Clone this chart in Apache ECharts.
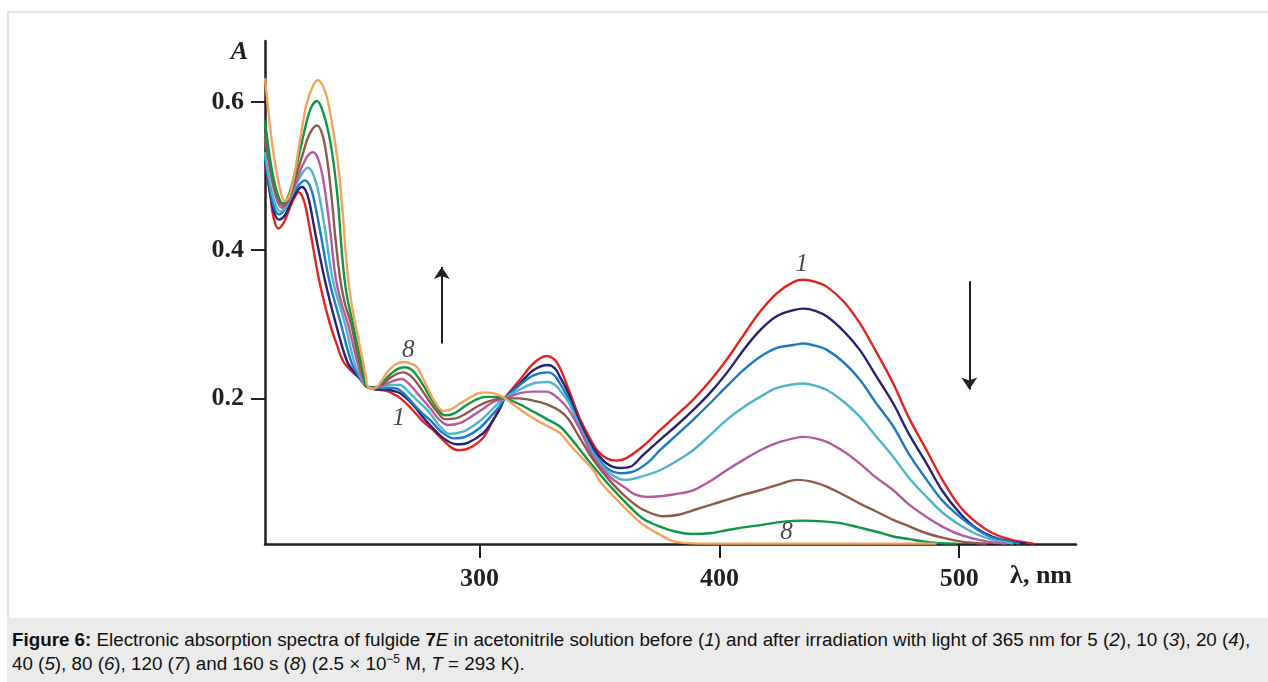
<!DOCTYPE html>
<html>
<head>
<meta charset="utf-8">
<script src="https://cdn.jsdelivr.net/npm/echarts@6/dist/echarts.min.js"></script>
<style>
  html, body { margin: 0; padding: 0; background: #fff; }
  body { width: 1268px; height: 682px; position: relative; overflow: hidden; }
  #frame { position: absolute; left: 7px; top: 11px; width: 1270px; height: 607px;
           border-left: 2px solid #e3e3e3; border-top: 2px solid #e3e3e3; box-sizing: border-box; }
  #chart { position: absolute; left: 0; top: 0; width: 1268px; height: 618px; }
  #caption { position: absolute; left: 7px; top: 618px; width: 1261px; height: 64px;
             background: #ebebeb; box-sizing: border-box; padding: 10px 0 0 5px;
             font-family: "Liberation Sans", Arial, sans-serif; font-size: 18.8px; line-height: 24px;
             color: #111; white-space: nowrap; }
  #caption sup { font-size: 12px; line-height: 0; vertical-align: 7px; }
</style>
</head>
<body>
<div id="frame"></div>
<div id="chart"></div>
<div id="caption"><b>Figure 6:</b> Electronic absorption spectra of fulgide <b>7</b><i>E</i> in acetonitrile solution before (<i>1</i>) and after irradiation with light of 365 nm for 5 (<i>2</i>), 10 (<i>3</i>), 20 (<i>4</i>),<br>40 (<i>5</i>), 80 (<i>6</i>), 120 (<i>7</i>) and 160 s (<i>8</i>) (2.5 × 10<sup>−5</sup> M, <i>T</i> = 293 K).</div>
<script>
// wavelength (nm), absorbance A
const curve1 = [[210.5,0.517],[212.6,0.476],[214,0.445],[216,0.429],[218.5,0.438],[221,0.458],[223,0.472],[224.3,0.478],[225.8,0.474],[227.3,0.460],[229.5,0.423],[233.1,0.359],[237.6,0.300],[240.5,0.272],[243.1,0.250],[246.5,0.237],[250,0.227],[252.8,0.216],[257,0.212],[261,0.210],[264,0.206],[267,0.200],[271,0.188],[276,0.170],[280.6,0.157],[285,0.143],[288,0.134],[291,0.130],[294,0.131],[297,0.135],[301.5,0.147],[305.7,0.171],[308.5,0.188],[310.5,0.200],[316.8,0.225],[322.4,0.247],[327.9,0.257],[331,0.253],[333.5,0.241],[337,0.213],[341.5,0.175],[345,0.152],[349,0.130],[353,0.119],[357,0.116],[361,0.119],[368,0.135],[375.2,0.157],[382,0.177],[389,0.198],[396,0.223],[403,0.252],[410,0.285],[417,0.317],[424,0.342],[431,0.357],[435,0.360],[440,0.357],[445,0.350],[452,0.330],[458.6,0.301],[465,0.265],[472.5,0.220],[479,0.174],[486.4,0.130],[493,0.090],[500.3,0.054],[507,0.033],[514,0.018],[522,0.009],[531,0.004]];
const curve2 = [[210.5,0.521],[212.6,0.478],[214.3,0.451],[216.3,0.441],[219,0.448],[221.5,0.466],[224,0.480],[226,0.485],[227.5,0.480],[229,0.465],[231.5,0.422],[235.5,0.359],[240.1,0.300],[244.7,0.250],[248,0.234],[251,0.223],[252.8,0.216],[257,0.212],[261,0.212],[264,0.210],[266.8,0.207],[272,0.192],[276,0.176],[279.3,0.164],[285,0.146],[290.4,0.138],[295,0.140],[301.5,0.153],[305.5,0.170],[308.5,0.186],[310.5,0.200],[316.8,0.220],[322.4,0.238],[328.6,0.245],[331.5,0.240],[333.5,0.229],[337,0.207],[341.5,0.170],[347.4,0.133],[353,0.112],[358.5,0.106],[363,0.108],[368,0.123],[375.2,0.144],[382,0.163],[389,0.184],[396,0.207],[403,0.234],[410,0.265],[417,0.292],[424,0.311],[431,0.319],[435,0.321],[440,0.318],[445,0.310],[452,0.290],[458.6,0.265],[465,0.232],[472.5,0.193],[479,0.152],[486.4,0.112],[493,0.075],[500.3,0.045],[507,0.025],[514,0.013],[521,0.007],[528,0.004]];
const curve3 = [[210.5,0.525],[212.6,0.482],[214.5,0.456],[216.5,0.448],[219,0.456],[222,0.475],[225,0.489],[227.2,0.494],[229,0.488],[230.8,0.470],[233.7,0.422],[237.3,0.359],[242.2,0.300],[246.4,0.250],[249.5,0.230],[252.8,0.216],[256,0.214],[260,0.214],[263,0.214],[266.8,0.211],[272,0.194],[276,0.180],[279.3,0.171],[284,0.155],[289,0.146],[294,0.148],[300.1,0.160],[305,0.177],[308.5,0.190],[310.5,0.200],[316.8,0.218],[322.4,0.231],[328.6,0.235],[331.5,0.230],[333.5,0.220],[337,0.200],[341.5,0.165],[347.4,0.128],[353,0.106],[359,0.099],[364,0.101],[370,0.113],[375.2,0.130],[382,0.150],[389,0.171],[396,0.193],[403,0.216],[410,0.238],[417,0.256],[424,0.268],[431,0.272],[435,0.274],[440,0.271],[445,0.265],[452,0.248],[458.6,0.225],[465,0.195],[472.5,0.162],[479,0.125],[486.4,0.090],[493,0.062],[500.3,0.040],[507,0.024],[514,0.012],[525.3,0.004]];
const curve4 = [[210.5,0.532],[212.7,0.488],[214.8,0.462],[217,0.452],[219.5,0.460],[222,0.477],[225,0.498],[228.4,0.511],[230.5,0.503],[233,0.475],[235.8,0.422],[238.8,0.359],[243.9,0.300],[247.6,0.250],[250.3,0.229],[252.8,0.216],[256,0.215],[259.5,0.216],[263,0.218],[266.8,0.218],[270,0.210],[274,0.197],[277,0.188],[279.3,0.180],[283.5,0.162],[287.6,0.152],[293,0.155],[298.7,0.166],[303,0.178],[307.1,0.191],[310.5,0.200],[316.8,0.212],[322.4,0.220],[328.6,0.222],[331.5,0.218],[333.5,0.211],[337,0.195],[341.5,0.163],[347.4,0.125],[354,0.100],[360.6,0.090],[367,0.094],[375.2,0.103],[382,0.115],[389,0.130],[396,0.150],[403,0.171],[410,0.188],[417,0.202],[424,0.214],[431,0.219],[435,0.220],[440,0.217],[445,0.211],[452,0.195],[458.6,0.175],[465,0.150],[472.5,0.121],[479,0.093],[486.4,0.067],[493,0.046],[500.3,0.029],[507,0.017],[514,0.009],[522.5,0.004]];
const curve5 = [[210.5,0.551],[212.8,0.505],[215.2,0.470],[217.5,0.457],[220,0.465],[223,0.488],[226,0.513],[228.5,0.528],[230.5,0.532],[232.5,0.524],[234.5,0.500],[236.3,0.462],[237.9,0.420],[240,0.362],[242.4,0.328],[245.1,0.300],[248.9,0.250],[251,0.228],[252.8,0.216],[256,0.214],[259.5,0.217],[263.5,0.223],[267.5,0.226],[271,0.218],[275,0.203],[279.3,0.187],[283,0.172],[286.9,0.164],[292,0.167],[297.3,0.177],[301.5,0.186],[305.7,0.195],[310.5,0.200],[316.8,0.207],[322.4,0.209],[327.9,0.209],[333.5,0.198],[337,0.185],[341.5,0.160],[347.4,0.121],[354,0.095],[361.3,0.078],[365,0.070],[369.6,0.067],[375.2,0.068],[382,0.071],[389,0.076],[396,0.088],[403,0.103],[410,0.117],[417,0.130],[424,0.140],[431,0.146],[435,0.148],[440,0.146],[445,0.141],[452,0.128],[458.6,0.112],[465,0.094],[472.5,0.076],[479,0.057],[486.4,0.040],[493,0.027],[500.3,0.016],[507,0.010],[513,0.006],[519.8,0.004]];
const curve6 = [[210.5,0.558],[213,0.505],[215.5,0.473],[218,0.460],[220.5,0.470],[223,0.495],[226,0.527],[229,0.556],[232.2,0.568],[234.5,0.555],[236.5,0.520],[238.3,0.470],[239.9,0.415],[241.8,0.362],[243.8,0.328],[246.4,0.300],[249.7,0.250],[251.5,0.228],[252.8,0.216],[256,0.214],[259,0.218],[262.5,0.227],[265.5,0.233],[268.1,0.235],[271,0.231],[274,0.220],[277,0.206],[279.3,0.195],[282.5,0.181],[285.5,0.172],[290,0.173],[294.6,0.180],[299,0.189],[302.9,0.195],[307,0.199],[310.5,0.200],[316,0.200],[322.4,0.197],[328,0.192],[333.5,0.183],[337,0.172],[341.5,0.148],[347.4,0.117],[354,0.090],[361.3,0.066],[368,0.050],[376.6,0.041],[383,0.043],[389.1,0.049],[396,0.056],[403,0.063],[410,0.070],[416.9,0.076],[425,0.084],[432.2,0.090],[438,0.088],[444.7,0.081],[451.6,0.070],[458.6,0.058],[465.6,0.047],[472.5,0.036],[479.4,0.027],[486.4,0.018],[493,0.012],[500.3,0.007],[506,0.005],[511.4,0.004]];
const curve7 = [[210.5,0.575],[213,0.515],[215.5,0.478],[218,0.463],[220.5,0.475],[223,0.505],[225.5,0.540],[228,0.575],[230,0.594],[232.2,0.601],[234.8,0.585],[237.5,0.550],[239.6,0.505],[241.2,0.455],[242.6,0.395],[244.4,0.343],[247.2,0.300],[250.3,0.252],[252,0.226],[253,0.216],[256,0.214],[259,0.220],[262,0.230],[265.5,0.239],[268.8,0.242],[271.5,0.239],[274,0.230],[276.8,0.216],[279.3,0.202],[282.5,0.186],[285.5,0.177],[289,0.179],[294.6,0.191],[299,0.199],[302.9,0.202],[306.5,0.202],[310.5,0.200],[316,0.193],[322.4,0.182],[328,0.172],[333.5,0.162],[337,0.150],[341.5,0.132],[347.4,0.108],[354,0.083],[361.3,0.058],[368,0.038],[375.2,0.027],[382,0.020],[389.1,0.017],[396,0.018],[403,0.022],[410,0.026],[417,0.029],[425,0.033],[435,0.035],[443,0.034],[451.6,0.031],[458,0.026],[465.6,0.020],[472,0.014],[479.4,0.010],[485,0.007],[490.6,0.005],[498.9,0.004]];
const curve8 = [[210.5,0.632],[213.3,0.548],[216,0.494],[218.8,0.466],[220.5,0.472],[222.3,0.494],[225.1,0.548],[227.9,0.598],[230.6,0.622],[232.6,0.629],[234.5,0.622],[236.4,0.605],[238.9,0.562],[241,0.515],[242.8,0.455],[244.3,0.390],[246,0.340],[248.3,0.298],[251.2,0.252],[252.5,0.230],[253.3,0.216],[255.6,0.213],[258,0.218],[261.2,0.234],[265,0.246],[268.8,0.249],[271,0.247],[273.7,0.243],[276.5,0.226],[279.3,0.207],[282,0.192],[284.8,0.183],[288,0.185],[291.8,0.193],[296,0.201],[299.5,0.207],[302,0.208],[305.5,0.207],[308.5,0.204],[310.5,0.200],[316,0.187],[322.4,0.173],[328,0.163],[333.5,0.153],[338,0.136],[343.2,0.118],[347.4,0.103],[350.2,0.088],[354,0.074],[361.3,0.050],[368,0.030],[375.2,0.016],[380,0.008],[385,0.005],[392,0.004],[420,0.004],[450,0.004],[490.6,0.004]];

const curves = [curve1, curve2, curve3, curve4, curve5, curve6, curve7, curve8];
const curveColors = ['#e2231f', '#2a2270', '#1b7cc2', '#4eb6c7', '#b65a9f', '#8f5b49', '#119548', '#f4a459'];

const xTicks = [300, 400, 500];
const yTicks = [0.2, 0.4, 0.6];

// curve number labels, placed in data coordinates
const labelTexts = ['1', '8', '1', '8'];
const labelAnchors = [[434.3, 0.380], [270.2, 0.265], [266.3, 0.173], [428.0, 0.019]];

// trend arrows (start -> end)
const arrowUp = [[284.2, 0.274], [284.2, 0.377]];
const arrowDown = [[504.2, 0.358], [504.2, 0.212]];

const ink = '#231f20';
const serif = '"Liberation Serif", "Times New Roman", serif';

const chart = echarts.init(document.getElementById('chart'));

const series = curves.map((c, i) => ({
    type: 'line',
    name: String(i + 1),
    data: c,
    smooth: 0.35,
    showSymbol: false,
    silent: true,
    lineStyle: {color: curveColors[i], width: 2.4},
    z: 2 + i
}));

series.push({
    type: 'scatter',
    symbolSize: 0,
    silent: true,
    data: labelAnchors.map((p, i) => ({value: p, label: {formatter: labelTexts[i]}})),
    label: {
        show: true,
        position: 'inside',
        fontFamily: serif,
        fontStyle: 'italic',
        fontSize: 25,
        color: '#1a1a1a'
    },
    markLine: {
        silent: true,
        symbol: ['none', 'arrow'],
        symbolSize: [12, 12],
        label: {show: false},
        lineStyle: {color: ink, width: 2, type: 'solid'},
        data: [
            [{coord: arrowUp[0]}, {coord: arrowUp[1]}],
            [{coord: arrowDown[0]}, {coord: arrowDown[1]}]
        ]
    },
    z: 20
});

const option = {
    animation: false,
    backgroundColor: 'transparent',
    grid: {left: 265, right: 192, top: 41, bottom: 74, outerBoundsMode: 'none'},
    xAxis: {
        type: 'value',
        min: 210.5,
        max: 548.7,
        name: 'λ, nm',
        nameLocation: 'end',
        nameGap: -4,
        nameTextStyle: {
            fontFamily: serif, fontWeight: 'bold', fontSize: 26, color: ink,
            align: 'right', verticalAlign: 'top', padding: [19, 0, 0, 0]
        },
        splitLine: {show: false},
        axisLine: {onZero: false, lineStyle: {color: ink, width: 2.5}},
        axisTick: {customValues: xTicks, length: 14, lineStyle: {color: ink, width: 2}},
        axisLabel: {
            customValues: xTicks, margin: 22,
            fontFamily: serif, fontWeight: 'bold', fontSize: 26, color: ink
        }
    },
    yAxis: {
        type: 'value',
        min: 0.0035,
        max: 0.682,
        name: 'A',
        nameLocation: 'end',
        nameGap: -11,
        nameTextStyle: {
            fontFamily: serif, fontWeight: 'bold', fontStyle: 'italic', fontSize: 26, color: ink,
            align: 'right', verticalAlign: 'middle', padding: [0, 17, 0, 0]
        },
        splitLine: {show: false},
        axisLine: {show: true, onZero: false, lineStyle: {color: ink, width: 2.5}},
        axisTick: {show: true, customValues: yTicks, length: 14, lineStyle: {color: ink, width: 2}},
        axisLabel: {
            customValues: yTicks, margin: 21,
            formatter: v => v.toFixed(1),
            fontFamily: serif, fontWeight: 'bold', fontSize: 26, color: ink
        }
    },
    series: series
};

chart.setOption(option);
</script>
</body>
</html>
